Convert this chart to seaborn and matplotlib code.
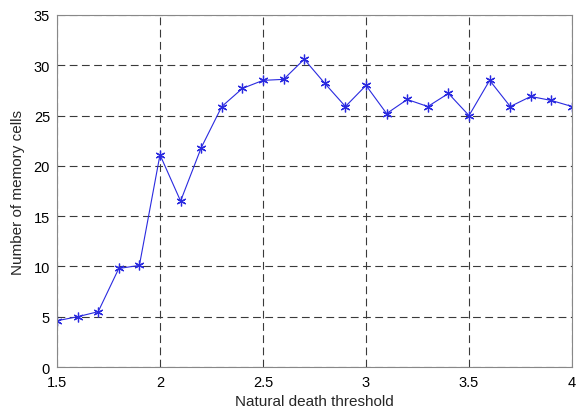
import matplotlib
matplotlib.use("Agg")
import matplotlib.pyplot as plt
import seaborn as sns
import pandas as pd

thresholds = [1.5, 1.6, 1.7, 1.8, 1.9, 2.0, 2.1, 2.2, 2.3, 2.4, 2.5, 2.6, 2.7,
              2.8, 2.9, 3.0, 3.1, 3.2, 3.3, 3.4, 3.5, 3.6, 3.7, 3.8, 3.9, 4.0]
memory_cells = [4.6, 5.0, 5.5, 9.8, 10.1, 21.1, 16.5, 21.8, 25.9, 27.7, 28.5, 28.6, 30.6,
                28.2, 25.9, 28.0, 25.2, 26.6, 25.9, 27.2, 25.0, 28.5, 25.9, 26.9, 26.5, 25.9]
x_ticks = [1.5, 2, 2.5, 3, 3.5, 4]
x_tick_labels = ["1.5", "2", "2.5", "3", "3.5", "4"]
y_ticks = [0, 5, 10, 15, 20, 25, 30, 35]

sns.set_style("white")
plt.rcParams['font.family'] = ['Liberation Sans', 'DejaVu Sans']

df = pd.DataFrame({"threshold": thresholds, "cells": memory_cells})

fig = plt.figure(figsize=(5.79, 4.10), dpi=100)
ax = fig.add_axes([0.0984, 0.1024, 0.8896, 0.8586])

sns.lineplot(data=df, x="threshold", y="cells", ax=ax, color="#2a2ae0",
             linewidth=0.8, marker=(6, 2, 0), markersize=7, markeredgewidth=0.9,
             markeredgecolor="#2a2ae0")

ax.set_xlim(1.5, 4)
ax.set_ylim(0, 35)
ax.set_xticks(x_ticks)
ax.set_xticklabels(x_tick_labels)
ax.set_yticks(y_ticks)
ax.grid(True, color="#3a3a3a", linestyle=(0, (7, 4)), linewidth=0.8)
ax.set_axisbelow(True)
for s in ax.spines.values():
    s.set_color("#888888")
    s.set_linewidth(0.8)
ax.tick_params(axis="y", labelsize=10.5, colors="black", length=0, pad=5)
ax.tick_params(axis="x", labelsize=10.5, colors="black", length=0, pad=6)
ax.set_xlabel("Natural death threshold", fontsize=11, labelpad=3)
ax.set_ylabel("Number of memory cells", fontsize=11, labelpad=6)

fig.savefig("out.png", dpi=100)
